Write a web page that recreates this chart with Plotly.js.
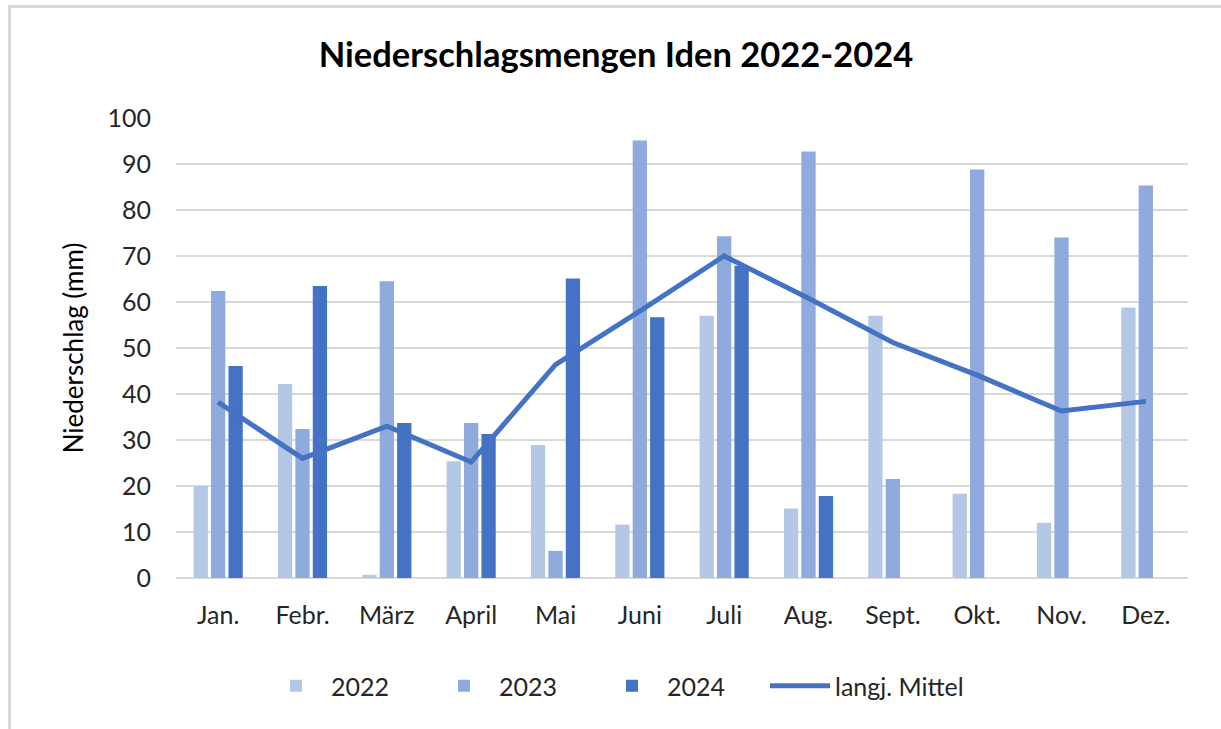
<!DOCTYPE html>
<html>
<head>
<meta charset="utf-8">
<script src="https://cdn.plot.ly/plotly-3.0.1.min.js"></script>
<style>
  html, body { margin: 0; padding: 0; background: #fff; }
  #chart { width: 1221px; height: 729px; }
  #frame { position: absolute; left: 8px; top: 5px; width: 1213px; height: 724px;
           border-left: 3px solid #d9d9d9; border-top: 3px solid #d9d9d9; pointer-events: none; box-sizing: border-box; }
</style>
</head>
<body>
<div id="chart"></div>
<div id="frame"></div>
<script>
const months = ["Jan.", "Febr.", "März", "April", "Mai", "Juni", "Juli", "Aug.", "Sept.", "Okt.", "Nov.", "Dez."];
const rain2022 = [20.0, 42.2, 0.7, 25.4, 28.9, 11.6, 57.0, 15.1, 57.0, 18.3, 12.0, 58.8];
const rain2023 = [62.4, 32.4, 64.5, 33.7, 5.9, 95.1, 74.3, 92.7, 21.5, 88.8, 74.0, 85.3];
const rain2024 = [46.1, 63.5, 33.7, 31.3, 65.1, 56.7, 67.9, 17.8, null, null, null, null];
const longTermMean = [38.2, 26.0, 33.0, 25.2, 46.4, 58.0, 70.0, 60.8, 51.2, 44.1, 36.3, 38.4];
const yTicks = [0, 10, 20, 30, 40, 50, 60, 70, 80, 90, 100];

const FONT = "Lato, 'Open Sans', sans-serif";

const traces = [
  { type: "bar", name: "2022", x: months, y: rain2022, marker: { color: "#B4C7E7" }, legend: "legend" },
  { type: "bar", name: "2023", x: months, y: rain2023, marker: { color: "#8FAADC" }, legend: "legend" },
  { type: "bar", name: "2024", x: months, y: rain2024, marker: { color: "#4472C4" }, legend: "legend" },
  { type: "scatter", mode: "lines", name: "langj. Mittel", x: months, y: longTermMean,
    line: { color: "#4472C4", width: 5, shape: "linear" }, legend: "legend2" }
];

const legendFont = { family: FONT, size: 25, color: "#262626" };

const layout = {
  width: 1221, height: 729,
  margin: { l: 176, r: 33, t: 118, b: 151 },
  paper_bgcolor: "#ffffff", plot_bgcolor: "#ffffff",
  font: { family: FONT, size: 25, color: "#262626" },
  title: { text: "<b>Niederschlagsmengen Iden 2022-2024</b>", font: { family: FONT, size: 34.5, color: "#000000" },
           x: 616 / 1221, xanchor: "center", xref: "container", y: 1 - 55 / 729, yanchor: "middle", yref: "container" },
  barmode: "group", bargap: 0.38, bargroupgap: 0.18,
  xaxis: { type: "category", categoryorder: "array", categoryarray: months,
           showgrid: false, zeroline: false, showline: false, ticks: "",
           ticklabelstandoff: 20, tickfont: { family: FONT, size: 25, color: "#262626" } },
  yaxis: { range: [0, 100], tickvals: yTicks, showgrid: true, gridcolor: "#d9d9d9", gridwidth: 1.3,
           zeroline: true, zerolinecolor: "#d9d9d9", zerolinewidth: 1.3, showline: false, ticks: "",
           ticklabelstandoff: 24, tickfont: { family: FONT, size: 25, color: "#262626" },
           title: { text: "Niederschlag (mm)", standoff: 16, font: { family: FONT, size: 26, color: "#000000" } } },
  legend: { orientation: "h", xref: "container", yref: "container", x: 261 / 1221, xanchor: "left",
            y: 1 - 686 / 729, yanchor: "middle", font: legendFont,
            itemwidth: 60, entrywidth: 93, entrywidthmode: "pixels", tracegroupgap: 0, traceorder: "normal" },
  legend2: { orientation: "h", xref: "container", yref: "container", x: 765 / 1221, xanchor: "left",
             y: 1 - 686 / 729, yanchor: "middle", font: legendFont, itemwidth: 60 },
  showlegend: true
};

Plotly.newPlot("chart", traces, layout, { displayModeBar: false, staticPlot: true });
</script>
</body>
</html>
